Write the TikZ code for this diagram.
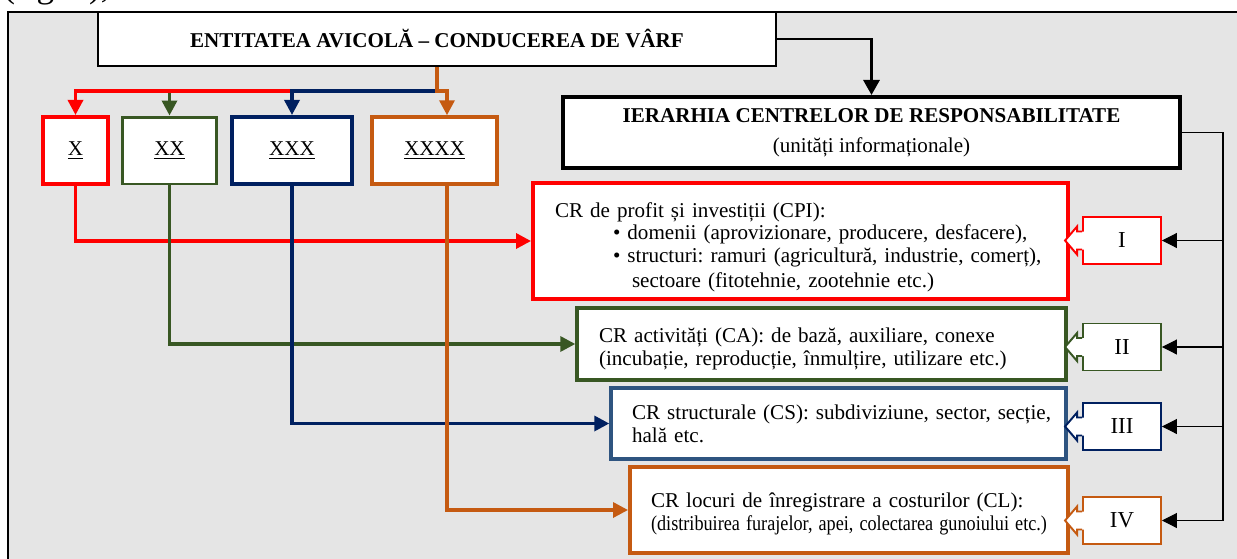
\documentclass[tikz,border=0pt]{standalone}
\usepackage{fontspec}
\setmainfont{Liberation Serif}
\usepackage{graphicx}
\usepackage{tikz}
\usetikzlibrary{arrows.meta,calc}
\definecolor{cpired}{RGB}{255,0,0}
\definecolor{cagreen}{RGB}{56,87,35}
\definecolor{csnavy}{RGB}{0,32,96}
\definecolor{csblue}{RGB}{46,84,128}
\definecolor{clorange}{RGB}{197,90,17}
\definecolor{framegray}{RGB}{229,229,229}
\newcommand{\feedwidth}{1.9pt}
\newcommand{\tipsize}{0.3cm}
\frenchspacing
\tikzset{
  unitbox/.style={draw, fill=white, inner sep=0pt, align=center, font=\fontsize{12}{14}\selectfont},
  textbox/.style={draw, fill=white, inner ysep=0pt, align=left, font=\fontsize{12}{13}\selectfont},
  romanbox/.style={draw, fill=white, line width=1.1pt, inner sep=0pt, minimum width=1.56cm, minimum height=0.94cm, font=\fontsize{13}{13}\selectfont},
  feed/.style={line width=\feedwidth, -{Triangle[length=\tipsize, width=\tipsize]}},
  thinfeed/.style={line width=0.6pt, -{Triangle[length=\tipsize, width=\tipsize]}}
}
\newcommand{\hollowtip}[2]{%
  \fill[white] (#1.west) ++(2,-9) -- ++(-7,0) -- ++(0,-5) -- ++(-12,14) -- ++(12,14) -- ++(0,-5) -- ++(7,0) -- cycle;
  \draw[#2, line width=1.1pt, line join=miter] (#1.west) ++(0,-9) -- ++(-5,0) -- ++(0,-5) -- ++(-12,14) -- ++(12,14) -- ++(0,-5) -- ++(5,0);
}

\begin{document}
\begin{tikzpicture}[x=0.02cm, y=-0.02cm]
\useasboundingbox (0,0) rectangle (1237,558);
\node[anchor=base west, font=\fontsize{20}{20}\selectfont, inner sep=0pt] (figref) at (3,-3) {(fig. 1),};
\draw[fill=framegray, line width=1.4pt] (8,12) rectangle (1250,575);
%top
\node[unitbox, line width=1.2pt] (top) at (437, 39) [minimum width=13.56cm, minimum height=1.08cm] {\textbf{ENTITATEA AVICOLĂ – CONDUCEREA DE VÂRF}};
\node[unitbox, line width=2.3pt, font=\fontsize{12}{17}\selectfont] (ier) at (871.5, 132.5) [minimum width=12.34cm, minimum height=1.42cm] {\textbf{IERARHIA CENTRELOR DE RESPONSABILITATE}\\(unități informaționale)};
%columns
\node[unitbox, draw=cpired, line width=2.3pt] (x1) at (75.5, 150.5) [minimum width=1.3cm, minimum height=1.34cm] {\underline{X}};
\node[unitbox, draw=cagreen, line width=1.7pt] (x2) at (169.5, 150.5) [minimum width=1.9cm, minimum height=1.34cm] {\underline{XX}};
\node[unitbox, draw=csnavy, line width=2.3pt] (x3) at (292, 150.5) [minimum width=2.4cm, minimum height=1.34cm] {\underline{XXX}};
\node[unitbox, draw=clorange, line width=2pt] (x4) at (434.5, 150.5) [minimum width=2.5cm, minimum height=1.34cm] {\underline{XXXX}};
%centres
\node[textbox, draw=cpired, line width=2.3pt] (cpi) at (800.5, 241) [inner xsep=0.44cm, text width=9.82cm, minimum height=2.32cm] {\rule{0pt}{0.54cm}CR de profit și investiții (CPI):\\
\hspace*{1.16cm}\textbullet{} domenii (aprovizionare, producere, desfacere),\\
\hspace*{1.16cm}\textbullet{} structuri: ramuri (agricultură, industrie, comerț),\\[1pt]
\hspace*{1.54cm}sectoare (fitotehnie, zootehnie etc.)};
\node[textbox, draw=cagreen, line width=2pt] (ca) at (821.5, 344) [inner xsep=0.44cm, text width=8.9cm, minimum height=1.44cm] {\rule{0pt}{0.5cm}CR activități (CA): de bază, auxiliare, conexe\\(incubație, reproducție, înmulțire, utilizare etc.)};
\node[textbox, draw=csblue, line width=2pt] (cs) at (838.5, 423.5) [inner xsep=0.42cm, text width=8.26cm, minimum height=1.42cm] {\mbox{CR structurale (CS): subdiviziune, sector, secție,}\\hală etc.};
\node[textbox, draw=clorange, line width=2.3pt] (cl) at (849, 510) [inner xsep=0.42cm, text width=7.92cm, minimum height=1.72cm] {\rule{0pt}{0.44cm}\makebox[7.92cm][s]{CR locuri de înregistrare a costurilor (CL):}\\\resizebox{7.92cm}{\height}{(distribuirea furajelor, apei, colectarea gunoiului etc.)}};
%levels
\node[romanbox, draw=cpired] (r1) at (1122, 240.5) {I};
\node[romanbox, draw=cagreen] (r2) at (1122, 347) {II};
\node[romanbox, draw=csnavy] (r3) at (1122, 426.5) {III};
\node[romanbox, draw=clorange] (r4) at (1122, 520.5) {IV};
\hollowtip{r1}{cpired}
\hollowtip{r2}{cagreen}
\hollowtip{r3}{csnavy}
\hollowtip{r4}{clorange}
%arrows
\coordinate (bus) at (437, 91);
\coordinate (rbus) at (1223, 0);
\draw[line width=1.7pt, -{Triangle[length=\tipsize, width=0.32cm]}] (top.east) -| (ier.north);
\draw[feed, cagreen] (bus -| x2.north) -- (x2.north);
\draw[feed, cpired] (bus -| x3.north) -| (x1.north);
\draw[feed, csnavy] (bus) -| (x3.north);
\draw[feed, clorange] (top.south) |- ([xshift=0.25cm]x4.north |- bus) -- ([xshift=0.25cm]x4.north);
\draw[feed, cpired] (x1.south) |- (cpi.west);
\draw[feed, cagreen] (x2.south) |- (ca.west);
\draw[feed, csnavy] (x3.south) |- (cs.west);
\draw[feed, clorange] ([xshift=0.25cm]x4.south) |- (cl.west);
\draw[thinfeed] (ier.east) -| (rbus |- r4.east) -- (r4.east);
\draw[thinfeed] (rbus |- r1.east) -- (r1.east);
\draw[thinfeed] (rbus |- r2.east) -- (r2.east);
\draw[thinfeed] (rbus |- r3.east) -- (r3.east);
\end{tikzpicture}
\end{document}
